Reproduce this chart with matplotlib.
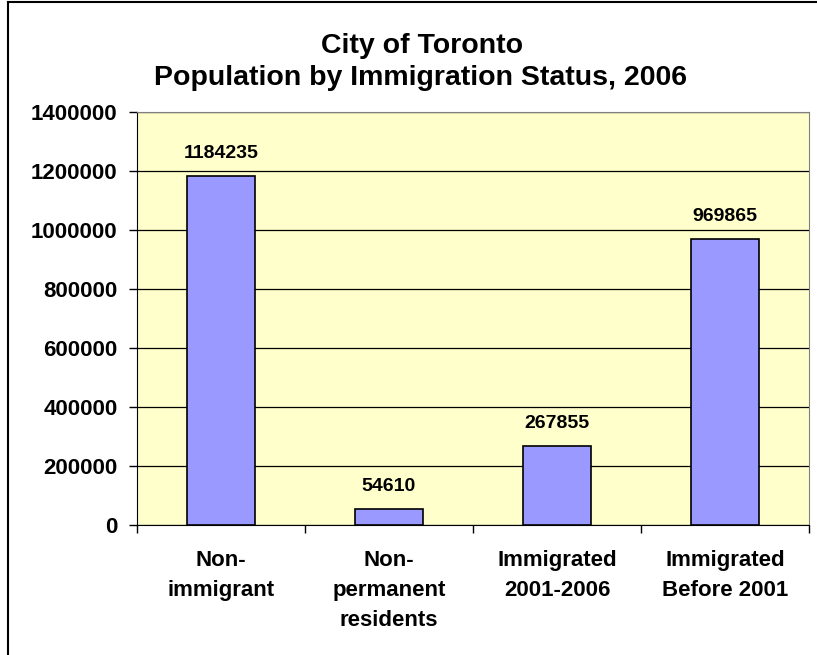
import numpy as np
import matplotlib.pyplot as plt
from matplotlib.lines import Line2D

plt.rcParams["font.family"] = "Liberation Sans"
plt.rcParams["font.weight"] = "bold"

categorias = ["Non-\nimmigrant", "Non-\npermanent\nresidents",
              "Immigrated\n2001-2006", "Immigrated\nBefore 2001"]
poblacion = [1184235, 54610, 267855, 969865]
yticks = [0, 200000, 400000, 600000, 800000, 1000000, 1200000, 1400000]

fig = plt.figure(figsize=(8.17, 6.55), dpi=100)
ax = fig.add_axes([137/817, 1 - 525/655, (809 - 137)/817, (525 - 112)/655])
ax.set_facecolor("#FFFFCC")

x = np.arange(len(categorias))
ax.bar(x, poblacion, width=0.4, color="#9999FF", edgecolor="black",
       linewidth=1.2, zorder=3)

for xi, v in zip(x, poblacion):
    ax.annotate(str(v), (xi, v), xytext=(0, 10), textcoords="offset points",
                ha="center", va="bottom", fontsize=14, fontweight="bold")

ax.set_xlim(-0.5, len(categorias) - 0.5)
ax.set_ylim(0, 1400000)
ax.set_yticks(yticks)
ax.set_yticklabels([str(t) for t in yticks], fontsize=16, fontweight="bold")
ax.yaxis.grid(True, color="black", linewidth=0.9, zorder=0)
ax.tick_params(axis="y", length=6, width=1, pad=8)

# category labels below, tick marks at the category boundaries
ax.set_xticks(x)
ax.set_xticklabels(categorias, fontsize=16, fontweight="bold", linespacing=1.55)
ax.tick_params(axis="x", which="major", length=0, pad=18)
ax.set_xticks(np.arange(-0.5, len(categorias)), minor=True)
ax.tick_params(axis="x", which="minor", length=6, width=1)

for lado in ["top", "right"]:
    ax.spines[lado].set_color("#808080")
for lado in ["left", "bottom"]:
    ax.spines[lado].set_color("black")

fig.text(422/817, 1 - 46/655, "City of Toronto",
         ha="center", va="center", fontsize=20.5, fontweight="bold")
fig.text(420/817, 1 - 78/655, "Population by Immigration Status, 2006",
         ha="center", va="center", fontsize=20.5, fontweight="bold")

# outer chart frame (left and top edges)
fig.add_artist(Line2D([8/817, 8/817], [0, 1 - 2/655], color="black", linewidth=1.5))
fig.add_artist(Line2D([8/817, 1], [1 - 2/655, 1 - 2/655], color="black", linewidth=1.5))

fig.savefig("out.png", dpi=100)
